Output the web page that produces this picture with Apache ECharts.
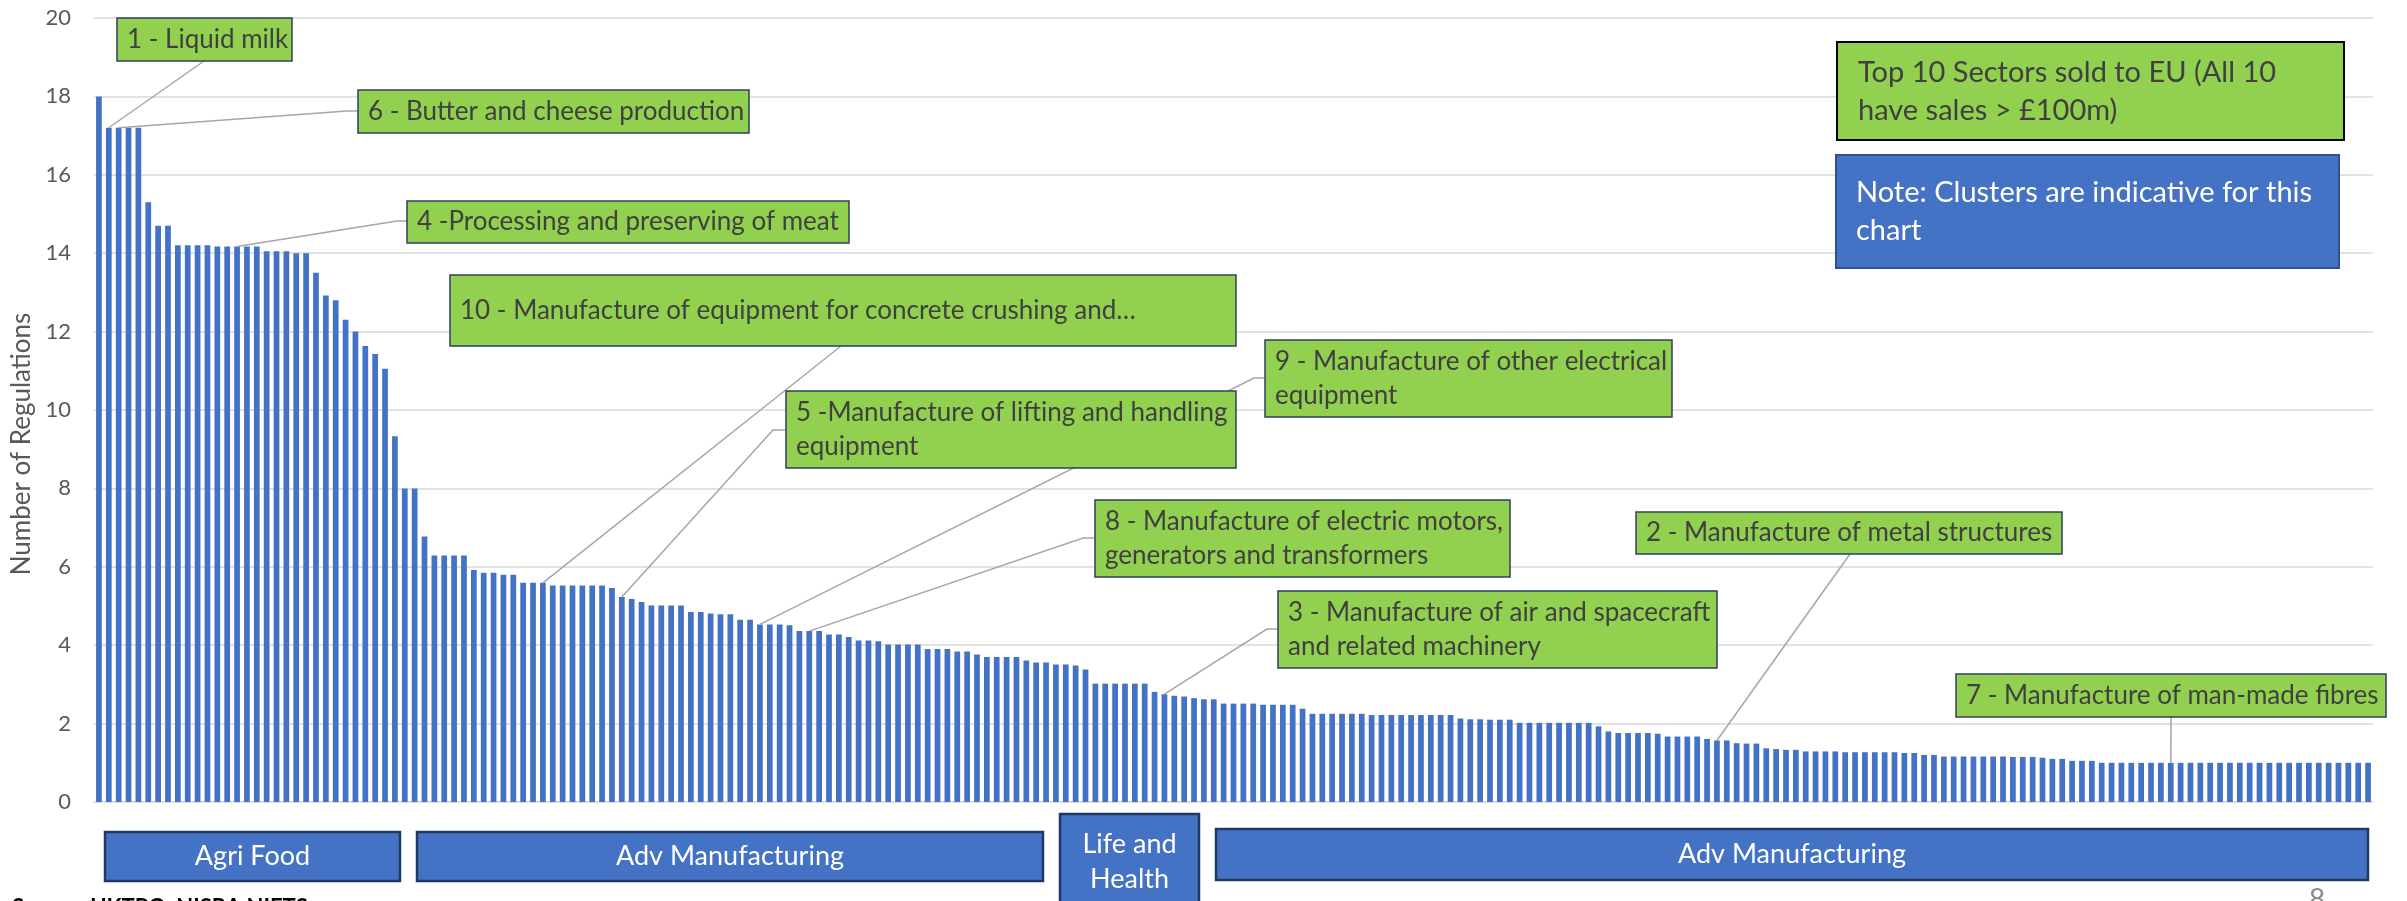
<!DOCTYPE html>
<html>
<head>
<meta charset="utf-8">
<title>Number of Regulations by sector</title>
<script src="https://cdn.jsdelivr.net/npm/echarts@6/dist/echarts.min.js"></script>
<style>
  html, body { margin: 0; padding: 0; background: #fff; }
  #chart { width: 2407px; height: 901px; }
</style>
</head>
<body>
<div id="chart"></div>
<script>
// number of regulations per sector, sorted high -> low
const regulations = [
  18.0, 17.2, 17.2, 17.2, 17.2, 15.3, 14.7, 14.7, 14.2, 14.2,
  14.2, 14.2, 14.17, 14.17, 14.17, 14.17, 14.17, 14.05, 14.05, 14.05,
  14.0, 14.0, 13.5, 12.92, 12.8, 12.3, 12.0, 11.63, 11.43, 11.05,
  9.33, 8.0, 8.0, 6.77, 6.29, 6.29, 6.29, 6.29, 5.92, 5.85,
  5.85, 5.8, 5.8, 5.59, 5.59, 5.59, 5.52, 5.52, 5.52, 5.52,
  5.52, 5.52, 5.46, 5.23, 5.18, 5.1, 5.01, 5.01, 5.01, 5.01,
  4.85, 4.85, 4.81, 4.79, 4.79, 4.65, 4.65, 4.53, 4.53, 4.53,
  4.51, 4.36, 4.36, 4.36, 4.27, 4.27, 4.21, 4.12, 4.12, 4.1,
  4.02, 4.02, 4.02, 4.02, 3.9, 3.9, 3.9, 3.84, 3.84, 3.76,
  3.7, 3.7, 3.7, 3.7, 3.61, 3.56, 3.56, 3.51, 3.51, 3.48,
  3.38, 3.02, 3.02, 3.02, 3.02, 3.02, 3.02, 2.81, 2.75, 2.71,
  2.69, 2.65, 2.62, 2.62, 2.51, 2.51, 2.51, 2.51, 2.48, 2.48,
  2.48, 2.48, 2.38, 2.25, 2.25, 2.25, 2.25, 2.25, 2.25, 2.22,
  2.22, 2.22, 2.22, 2.22, 2.22, 2.22, 2.22, 2.22, 2.13, 2.11,
  2.11, 2.1, 2.1, 2.1, 2.02, 2.02, 2.02, 2.02, 2.02, 2.02,
  2.02, 2.02, 1.93, 1.8, 1.76, 1.76, 1.76, 1.76, 1.74, 1.67,
  1.67, 1.67, 1.67, 1.61, 1.57, 1.57, 1.5, 1.49, 1.49, 1.37,
  1.35, 1.33, 1.33, 1.29, 1.29, 1.29, 1.29, 1.27, 1.27, 1.27,
  1.27, 1.27, 1.27, 1.25, 1.25, 1.2, 1.2, 1.16, 1.16, 1.16,
  1.16, 1.16, 1.16, 1.16, 1.15, 1.15, 1.15, 1.13, 1.1, 1.1,
  1.05, 1.05, 1.05, 1.0, 1.0, 1.0, 1.0, 1.0, 1.0, 1.0,
  1.0, 1.0, 1.0, 1.0, 1.0, 1.0, 1.0, 1.0, 1.0, 1.0,
  1.0, 1.0, 1.0, 1.0, 1.0, 1.0, 1.0, 1.0, 1.0, 1.0,
  1.0
];
const sectors = regulations.map((v, i) => 'Sector ' + (i + 1));
const yTicks = [0, 2, 4, 6, 8, 10, 12, 14, 16, 18, 20];

// top 10 sectors sold to the EU, and which bar each one is
const calloutText = [
  '1 - Liquid milk',
  '6 - Butter and cheese production',
  '4 -Processing and preserving of meat',
  '10 - Manufacture of equipment for concrete crushing and…',
  '5 -Manufacture of lifting and handling\nequipment',
  '9 - Manufacture of other electrical\nequipment',
  '8 - Manufacture of electric motors,\ngenerators and transformers',
  '3 - Manufacture of air and spacecraft\nand related machinery',
  '2 - Manufacture of metal structures',
  '7 - Manufacture of man-made fibres'
];
const calloutBar = [1, 2, 14, 45, 53, 67, 72, 108, 164, 210];

const clusterNames = ['Agri Food', 'Adv Manufacturing', 'Life and\nHealth', 'Adv Manufacturing'];

// layout only (pixels)
const calloutLayout = [
  { box: [117, 18, 175, 43], from: [[204, 61]] },
  { box: [358, 90, 391, 43], from: [[358, 111], [347, 111]] },
  { box: [407, 201, 442, 42], from: [[407, 221], [397, 221]] },
  { box: [450, 275, 786, 71], from: [[841, 346]] },
  { box: [786, 391, 450, 77], from: [[786, 430], [773, 430]] },
  { box: [1265, 340, 407, 77], from: [[1265, 378], [1254, 378]] },
  { box: [1095, 500, 415, 77], from: [[1095, 538], [1083, 538]] },
  { box: [1278, 591, 439, 77], from: [[1278, 629], [1267, 629]] },
  { box: [1636, 512, 426, 42], from: [[1850, 554]] },
  { box: [1956, 674, 430, 43], from: [[2171, 717]] }
];
const clusterLayout = [
  [105, 832, 295, 49],
  [417, 832, 626, 49],
  [1060, 814, 139, 100],
  [1216, 829, 1152, 51]
];

const FONT = 'Lato, "Open Sans", sans-serif';
const GREEN = '#92D050';
const BLUE = '#4472C4';

const chart = echarts.init(document.getElementById('chart'));
chart.setOption({
  animation: false,
  backgroundColor: '#fff',
  grid: { left: 94, right: 34, top: 18, bottom: 99, containLabel: false, outerBoundsMode: 'none' },
  xAxis: {
    type: 'category',
    data: sectors,
    axisLine: { show: true, lineStyle: { color: '#D9D9D9', width: 1.5 } },
    axisTick: { show: false },
    axisLabel: { show: false },
    splitLine: { show: false }
  },
  yAxis: {
    type: 'value',
    min: yTicks[0],
    max: yTicks[yTicks.length - 1],
    interval: yTicks[1] - yTicks[0],
    axisLine: { show: false },
    axisTick: { show: false },
    axisLabel: { color: '#595959', fontSize: 22, fontFamily: FONT, margin: 23 },
    splitLine: { lineStyle: { color: '#D9D9D9', width: 1.5 } }
  },
  series: [{
    type: 'bar',
    data: regulations,
    barCategoryGap: '42%',
    itemStyle: { color: BLUE }
  }]
});

const g = [];

// y axis title
g.push({
  type: 'text', z: 100, x: 22, y: 444, rotation: Math.PI / 2,
  style: { text: 'Number of Regulations', font: '26px ' + FONT, fill: '#595959', align: 'center', verticalAlign: 'middle' }
});

// callouts: leader line to the bar top, then the green box
calloutText.forEach((txt, i) => {
  const lay = calloutLayout[i];
  const k = calloutBar[i];
  const tip = chart.convertToPixel({ seriesIndex: 0 }, [k, regulations[k]]);
  g.push({
    type: 'polyline', z: 100,
    shape: { points: lay.from.concat([tip]) },
    style: { stroke: '#A6A6A6', lineWidth: 1.5, fill: null }
  });
  const [x, y, w, h] = lay.box;
  g.push({
    type: 'rect', z: 101,
    shape: { x: x, y: y, width: w, height: h },
    style: { fill: GREEN, stroke: '#2F3F5F', lineWidth: 1.5 }
  });
  g.push({
    type: 'text', z: 102, x: x + 10, y: y + h / 2,
    style: { text: txt, font: '26px ' + FONT, fill: '#404040', verticalAlign: 'middle', lineHeight: 34 }
  });
});

// top right notes
g.push({
  type: 'rect', z: 101, shape: { x: 1837, y: 42, width: 507, height: 98 },
  style: { fill: GREEN, stroke: '#000', lineWidth: 2 }
});
g.push({
  type: 'text', z: 102, x: 1858, y: 92,
  style: { text: 'Top 10 Sectors sold to EU (All 10\nhave sales > £100m)', font: '29px ' + FONT, fill: '#404040', verticalAlign: 'middle', lineHeight: 38 }
});
g.push({
  type: 'rect', z: 101, shape: { x: 1836, y: 155, width: 503, height: 113 },
  style: { fill: BLUE, stroke: '#2F528F', lineWidth: 2 }
});
g.push({
  type: 'text', z: 102, x: 1856, y: 212,
  style: { text: 'Note: Clusters are indicative for this\nchart', font: '29px ' + FONT, fill: '#fff', verticalAlign: 'middle', lineHeight: 38 }
});

// cluster boxes under the axis
clusterNames.forEach((name, i) => {
  const [x, y, w, h] = clusterLayout[i];
  g.push({
    type: 'rect', z: 101, shape: { x: x, y: y, width: w, height: h },
    style: { fill: BLUE, stroke: '#1F3864', lineWidth: 2.5 }
  });
  const cy = i === 2 ? 862 : y + h / 2;
  g.push({
    type: 'text', z: 102, x: x + w / 2, y: cy,
    style: { text: name, font: '27px ' + FONT, fill: '#fff', align: 'center', verticalAlign: 'middle', lineHeight: 35 }
  });
});

// footer, cut by the page edge
g.push({
  type: 'text', z: 100, x: 12, y: 897,
  style: { text: 'Source: UKTPO, NISRA NIETS', font: 'bold 22px ' + FONT, fill: '#000', verticalAlign: 'top' }
});
g.push({
  type: 'text', z: 100, x: 2317, y: 886,
  style: { text: '8', font: '28px ' + FONT, fill: '#898989', align: 'center', verticalAlign: 'top' }
});

chart.setOption({ graphic: g });
</script>
</body>
</html>
